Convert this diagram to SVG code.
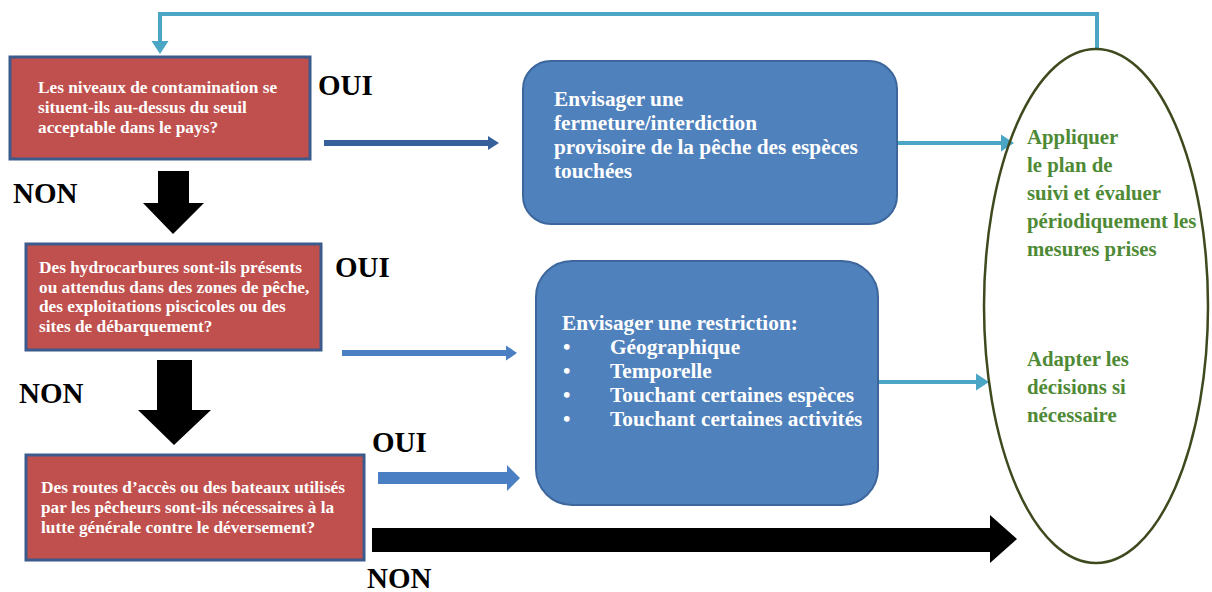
<svg xmlns="http://www.w3.org/2000/svg" width="1212" height="592" viewBox="0 0 1212 592">
<style>
.q{fill:#c0504d;stroke:#3d5a8c;stroke-width:3}
.qt{font-family:"Liberation Serif",serif;font-weight:bold;font-size:17.3px;fill:#ffffff}
.b{fill:#4f81bd;stroke:#3d679c;stroke-width:2}
.bt{font-family:"Liberation Serif",serif;font-weight:bold;font-size:21.3px;fill:#ffffff}
.lbl{font-family:"Liberation Serif",serif;font-weight:bold;font-size:29px;fill:#000000}
.gt{font-family:"Liberation Serif",serif;font-weight:bold;font-size:20.8px;fill:#4e8a35}
.teal{stroke:#4aa6c4;stroke-width:4;fill:none}
</style>
<defs>
<marker id="mDark" markerUnits="userSpaceOnUse" markerWidth="12" markerHeight="16" refX="1" refY="8" orient="auto"><path d="M0,1 L11,8 L0,15 z" fill="#36609a"/></marker>
<marker id="mBlue" markerUnits="userSpaceOnUse" markerWidth="12" markerHeight="16" refX="1" refY="8" orient="auto"><path d="M0,0.5 L11,8 L0,15.5 z" fill="#4a7fc4"/></marker>
<marker id="mTeal" markerUnits="userSpaceOnUse" markerWidth="14" markerHeight="18" refX="1" refY="9" orient="auto"><path d="M0,0.5 L13,9 L0,17.5 z" fill="#4aa6c4"/></marker>
</defs>
<rect width="1212" height="592" fill="#ffffff"/>

<g id="connectors">
<polyline class="teal" points="1097,50 1097,14 160,14 160,42" marker-end="url(#mTeal)"/>
<line x1="324" y1="143" x2="489" y2="143" stroke="#36609a" stroke-width="6" marker-end="url(#mDark)"/>
<line x1="342" y1="353" x2="507" y2="353" stroke="#4a7fc4" stroke-width="6" marker-end="url(#mBlue)"/>
<polygon points="378,472 507,472 507,465 520,478 507,491 507,484 378,484" fill="#4a7fc4"/>
<line class="teal" x1="897" y1="143" x2="1002" y2="143" marker-end="url(#mTeal)"/>
<line class="teal" x1="878" y1="382" x2="977" y2="382" marker-end="url(#mTeal)"/>
<polygon points="158,171 189,171 189,203 204,203 173,234 143,203 158,203" fill="#000000"/>
<polygon points="157,360 192,360 192,410 211,410 174,445 138,410 157,410" fill="#000000"/>
<polygon points="372,528 990,528 990,515 1017,539 990,563 990,552 372,552" fill="#000000"/>
<text class="lbl" x="318" y="95">OUI</text>
<text class="lbl" x="13" y="203">NON</text>
<text class="lbl" x="335" y="277">OUI</text>
<text class="lbl" x="19" y="403">NON</text>
<text class="lbl" x="372" y="452">OUI</text>
<text class="lbl" x="367" y="588">NON</text>
</g>

<g id="q1">
<rect class="q" x="10" y="57" width="300" height="102"/>
<text class="qt"><tspan x="38" y="93">Les niveaux de contamination se</tspan><tspan x="38" y="113">situent-ils au-dessus du seuil</tspan><tspan x="38" y="133">acceptable dans le pays?</tspan></text>
</g>

<g id="q2">
<rect class="q" x="26" y="244" width="295" height="106"/>
<text class="qt"><tspan x="39" y="273">Des hydrocarbures sont-ils présents</tspan><tspan x="39" y="292.5">ou attendus dans des zones de pêche,</tspan><tspan x="39" y="312">des exploitations piscicoles ou des</tspan><tspan x="39" y="331.5">sites de débarquement?</tspan></text>
</g>

<g id="q3">
<rect class="q" x="26" y="455" width="338" height="105"/>
<text class="qt"><tspan x="41" y="493">Des routes d’accès ou des bateaux utilisés</tspan><tspan x="41" y="513">par les pêcheurs sont-ils nécessaires à la</tspan><tspan x="41" y="533">lutte générale contre le déversement?</tspan></text>
</g>

<g id="a1">
<rect class="b" x="523" y="61" width="374" height="163" rx="28" ry="28"/>
<text class="bt"><tspan x="554" y="106">Envisager une</tspan><tspan x="554" y="130">fermeture/interdiction</tspan><tspan x="554" y="154">provisoire de la pêche des espèces</tspan><tspan x="554" y="178">touchées</tspan></text>
</g>

<g id="a2">
<rect class="b" x="536" y="261" width="342" height="244" rx="36" ry="36"/>
<text class="bt"><tspan x="562" y="330">Envisager une restriction:</tspan></text>
<text class="bt"><tspan x="563" y="354">•</tspan><tspan x="563" y="378">•</tspan><tspan x="563" y="402">•</tspan><tspan x="563" y="426">•</tspan></text>
<text class="bt"><tspan x="610" y="354">Géographique</tspan><tspan x="610" y="378">Temporelle</tspan><tspan x="610" y="402">Touchant certaines espèces</tspan><tspan x="610" y="426">Touchant certaines activités</tspan></text>
</g>

<g id="suivi">
<ellipse cx="1096" cy="306" rx="112" ry="257" fill="none" stroke="#3e4a1e" stroke-width="2.5"/>
<text class="gt"><tspan x="1027" y="144">Appliquer</tspan><tspan x="1027" y="172">le plan de</tspan><tspan x="1027" y="200">suivi et évaluer</tspan><tspan x="1027" y="228">périodiquement les</tspan><tspan x="1027" y="256">mesures prises</tspan></text>
<text class="gt"><tspan x="1027" y="366">Adapter les</tspan><tspan x="1027" y="394">décisions si</tspan><tspan x="1027" y="422">nécessaire</tspan></text>
</g>
</svg>
